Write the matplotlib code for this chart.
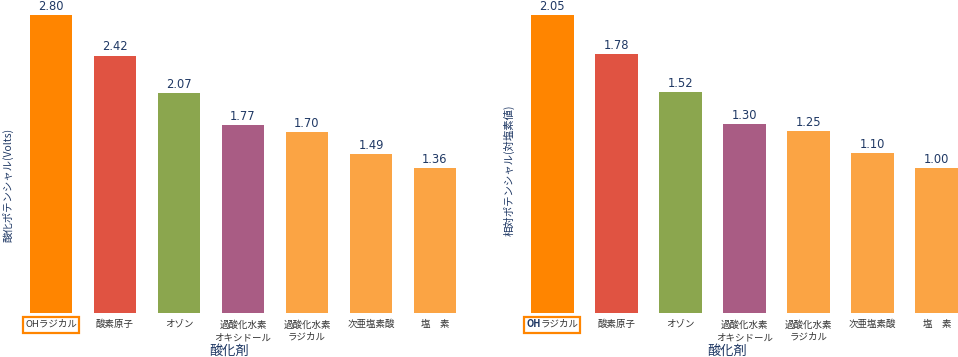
import matplotlib.pyplot as plt
from matplotlib.patches import Rectangle

plt.rcParams['font.family'] = ['Noto Sans CJK JP', 'DejaVu Sans']

categories = ['OHラジカル', '酸素原子', 'オゾン', '過酸化水素\nオキシドール',
              '過酸化水素\nラジカル', '次亜塩素酸', '塩　素']
volts = [2.80, 2.42, 2.07, 1.77, 1.70, 1.49, 1.36]
relative = [2.05, 1.78, 1.52, 1.30, 1.25, 1.10, 1.00]
colors = ['#FF8500', '#E05342', '#8BA64E', '#A95C84', '#FBA444', '#FBA444', '#FBA444']

W, H = 958, 357
fig = plt.figure(figsize=(W / 100, H / 100), dpi=100)

label_col = '#1F3864'
text_col = '#333333'


def panel(left_px, right_px, xmax, values, ymax, ylabel, ylab_y, xlab_x, bold_oh):
    ax = fig.add_axes([left_px / W, 44 / H, (right_px - left_px) / W, (H - 44) / H])
    x = range(len(values))
    ax.bar(x, values, width=0.67, color=colors)
    for i, v in zip(x, values):
        ax.annotate(f'{v:.2f}', (i, v), xytext=(0, 1.5), textcoords='offset points',
                    ha='center', va='bottom', fontsize=8.3, color=label_col,
                    family='DejaVu Sans', annotation_clip=False)
    ax.set_xlim(-0.5, xmax)
    ax.set_ylim(0, ymax)
    ax.set_yticks([])
    ax.set_xticks(list(x))
    labels = [''] + categories[1:]
    ax.set_xticklabels(labels, fontsize=6.8, color=text_col, linespacing=1.5)
    ax.tick_params(axis='x', length=0, pad=5)
    for s in ax.spines.values():
        s.set_visible(False)
    # orange frame round the first label
    hpx = ax.bbox.height
    ax.add_patch(Rectangle((-0.44, -20 / hpx), 0.88, 16 / hpx, fill=False,
                           ec='#FF8500', lw=1.6, transform=ax.get_xaxis_transform(),
                           clip_on=False))
    if bold_oh:
        t1 = ax.annotate('OH', (0, 0), xytext=(-8.3, -8), textcoords='offset points',
                         xycoords=('data', 'axes fraction'), ha='right', va='center',
                         fontsize=6.8, color=label_col, fontweight='bold',
                         annotation_clip=False)
        ax.annotate('ラジカル', (1, 0.5), xycoords=t1, ha='left', va='center',
                    fontsize=6.8, color=text_col, annotation_clip=False)
    else:
        ax.annotate('OHラジカル', (0, 0), xytext=(0, -8), textcoords='offset points',
                    xycoords=('data', 'axes fraction'), ha='center', va='center',
                    fontsize=6.8, color=text_col, annotation_clip=False)
    fig.text(xlab_x / W, 1 - 351 / H, '酸化剤', ha='center', va='center',
             fontsize=9.5, color=label_col)
    fig.text((left_px - 11) / W, 1 - ylab_y / H, ylabel, rotation=90,
             ha='center', va='center', fontsize=7.5, color=label_col)
    return ax


panel(19, 467, 6.5, volts, 313 / 106.4, '酸化ポテンシャル(Volts)', 185, 229, False)
panel(520, 958, 6.33, relative, 313 / 145.4, '相対ポテンシャル(対塩素値)', 170, 727, True)

fig.savefig('out.png', dpi=100)
